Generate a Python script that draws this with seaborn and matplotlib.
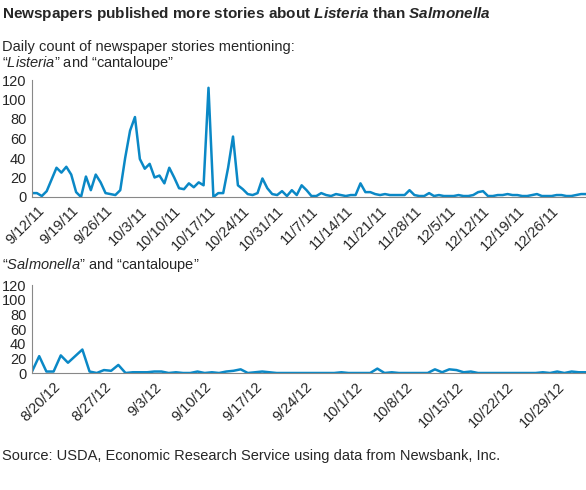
import matplotlib
matplotlib.use("Agg")
import matplotlib.pyplot as plt
import seaborn as sns
import pandas as pd

listeria = [4,4,1,6,18,30,25,31,23,5,0,21,7,23,15,4,3,2,7,40,68,82,39,29,34,20,22,14,30,20,
            9,8,14,10,15,12,112,0,4,4,30,62,12,8,3,2,4,19,9,3,2,6,
            1,7,2,12,7,1,1,4,2,1,3,2,1,2,2,14,5,5,3,2,3,2,2,2,2,7,2,1,1,4,1,2,1,1,1,2,1,1,2,5,
            6,1,1,2,2,3,2,2,1,1,2,3,1,1,1,2,2,1,1,2,3,3]
salmonella = [2,23,2,2,24,14,23,32,2,0,4,3,11,0,1,1,1,2,2,0,1,0,0,2,0,1,0,2,3,5,0,1,2,1,0,0,0,
              0,0,0,0,0,0,1,0,0,0,0,6,0,1,0,0,0,0,0,5,1,5,4,1,2,0,0,0,0,0,0,0,0,0,1,0,2,0,2,1,1]
listeria_dates = pd.date_range("2011-09-11", periods=len(listeria), freq="D")
salmonella_dates = pd.date_range("2012-08-17", periods=len(salmonella), freq="D")
top_ticks = pd.date_range("2011-09-12", "2011-12-26", freq="7D")
bot_ticks = pd.date_range("2012-08-20", "2012-10-29", freq="7D")

sns.set_style("white")
plt.rcParams['font.family'] = ['Liberation Sans', 'DejaVu Sans']
plt.rcParams['mathtext.fontset'] = 'custom'
plt.rcParams['mathtext.it'] = 'Liberation Sans:italic'
plt.rcParams['mathtext.bf'] = 'Liberation Sans:bold'
plt.rcParams['mathtext.bfit'] = 'Liberation Sans:italic:bold'
plt.rcParams['mathtext.rm'] = 'Liberation Sans'
color = "#0a88c6"
fig = plt.figure(figsize=(5.86, 4.90), dpi=100)

def draw(ax, dates, vals, ticks):
    sns.lineplot(x=dates, y=vals, ax=ax, color=color, linewidth=1.8)
    ax.set_xlim(dates[0], dates[-1])
    ax.set_ylim(0, 120)
    ax.set_yticks(range(0, 121, 20))
    ax.set_xticks(ticks)
    ax.set_xticklabels([f"{d.month}/{d.day}/{d.strftime('%y')}" for d in ticks],
                       rotation=45, ha="right", rotation_mode="anchor", fontsize=10.5)
    ax.tick_params(axis="y", labelsize=10.5, length=3, color="#888888", pad=1)
    ax.tick_params(axis="x", length=3, color="#888888", pad=2)
    for s in ["top", "right"]:
        ax.spines[s].set_visible(False)
    for s in ["left", "bottom"]:
        ax.spines[s].set_color("#888888")
        ax.spines[s].set_linewidth(0.8)
    ax.set_xlabel(""); ax.set_ylabel("")

ax1 = fig.add_axes([32/586, 1-197/490, 554/586, 117/490])
draw(ax1, listeria_dates, listeria, top_ticks)
ax2 = fig.add_axes([32/586, 1-373/490, 554/586, 88/490])
draw(ax2, salmonella_dates, salmonella, bot_ticks)

fig.text(2/586, 1-14/490, "Newspapers published more stories about $\\mathbfit{Listeria}$ than $\\mathbfit{Salmonella}$",
         fontsize=11, fontweight="bold", va="center")
fig.text(2/586, 1-47/490, "Daily count of newspaper stories mentioning:", fontsize=10.5, va="center")
fig.text(2/586, 1-63/490, "“$\\mathit{Listeria}$” and “cantaloupe”", fontsize=10.5, va="center")
fig.text(2/586, 1-265/490, "“$\\mathit{Salmonella}$” and “cantaloupe”", fontsize=10.5, va="center")
fig.text(2/586, 1-456/490, "Source: USDA, Economic Research Service using data from Newsbank, Inc.",
         fontsize=10.5, va="center")
fig.savefig("out.png", dpi=100)
